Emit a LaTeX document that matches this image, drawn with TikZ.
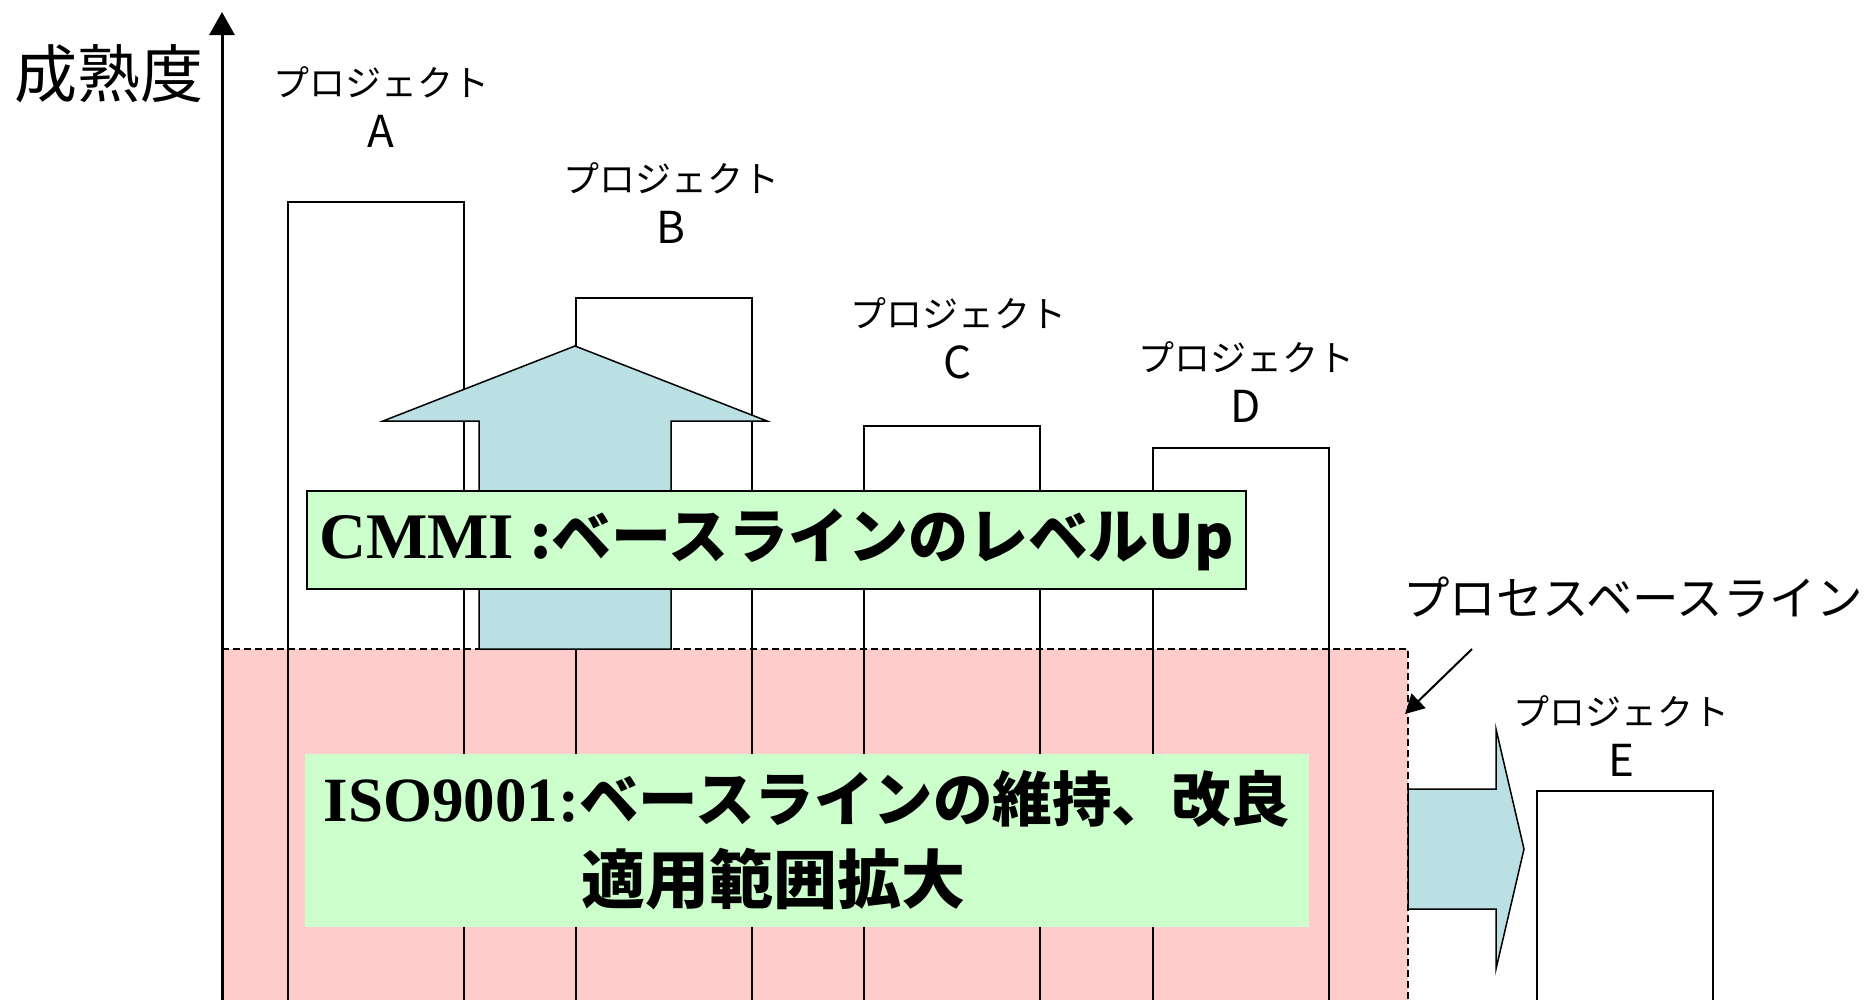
\documentclass[tikz,border=0pt]{standalone}
\usepackage{fontspec}
\setmainfont{Liberation Serif}
\newfontfamily\jp{Noto Sans CJK JP}
\usetikzlibrary{arrows.meta}
\definecolor{pinkbg}{HTML}{FFCCCC}
\definecolor{greenbg}{HTML}{CCFFCC}
\definecolor{bluearr}{HTML}{BBE0E3}
\newcommand{\projletter}[1]{{\fontsize{44}{51}\selectfont #1}}
\tikzset{
  pbox/.style={draw, line width=1.5pt, anchor=north west, inner sep=0pt,
               minimum width=176pt, minimum height=820pt},
  lbl/.style={align=center, inner sep=0pt, font=\jp\fontsize{36}{51}\selectfont},
  bigarrow/.style={draw, line width=1.5pt, fill=bluearr, line join=miter},
  greenbox/.style={fill=greenbg, inner sep=0pt},
}
\begin{document}
\begin{tikzpicture}[x=1pt,y=-1pt]
\useasboundingbox (0,0) rectangle (1871,999);
\clip (0,0) rectangle (1871,999);
% pink baseline region
\fill[pinkbg] (222,649) rectangle (1408,1010);
\coordinate (blTL) at (222,649);
\coordinate (blTR) at (1408,649);
\coordinate (blBR) at (1408,1010);
% project boxes
\node[pbox] (boxA) at (287,201) {};
\node[pbox] (boxB) at (575,297) {};
\node[pbox] (boxC) at (863,425) {};
\node[pbox] (boxD) at (1152,447) {};
\node[pbox] (boxE) at (1536,790) {};
% dashed border of baseline
\draw[line width=1.5pt, dash pattern=on 7pt off 4pt] (blTL) -- (blTR) -- (blBR);
% axis
\coordinate (axBot) at (222,1010);
\coordinate (axTop) at (222,12);
\draw[line width=3pt, -{Triangle[length=23pt,width=25pt]}] (axBot) -- (axTop);
\node[inner sep=0pt, font=\jp\fontsize{63}{63}\selectfont] (ylab) at (109,74) {成熟度};
% labels
\node[lbl] (lA) at (381,107) {プロジェクト\\\projletter{A}};
\node[lbl] (lB) at (671,203) {プロジェクト\\\projletter{B}};
\node[lbl] (lC) at (958,338) {プロジェクト\\\projletter{C}};
\node[lbl] (lD) at (1246,382) {プロジェクト\\\projletter{D}};
\node[lbl] (lE) at (1621,736) {プロジェクト\\\projletter{E}};
% up arrow
\draw[bigarrow] (575,346) -- (767,421) -- (671,421) -- (671,649) -- (479,649) -- (479,421) -- (383,421) -- cycle;
% CMMI box
\node[draw, line width=1.5pt, fill=greenbg, inner sep=0pt, minimum width=939pt, minimum height=98pt] (cmmi) at (776.5,540)
  {{\bfseries\fontsize{65}{65}\selectfont CMMI\ }{\jp\bfseries\fontsize{60}{60}\selectfont :ベースラインのレベルUp}};
% ISO box
\node[greenbox, minimum width=1004pt, minimum height=173pt, align=left, font=\fontsize{63}{82}\selectfont] (iso) at (807,840.5)
  {{\bfseries ISO9001:}{\jp\bfseries\fontsize{59.5}{82}\selectfont ベースラインの維持、改良}\\
   \hspace*{258pt}{\jp\bfseries\fontsize{64}{82}\selectfont 適用範囲拡大}};
% right arrow
\draw[bigarrow] (1408,789) -- (1496,789) -- (1496,729) -- (1524,849) -- (1496,969) -- (1496,909) -- (1408,909) -- cycle;
% process baseline label and pointer
\node[inner sep=0pt, font=\jp\fontsize{46.5}{46.5}\selectfont] (pbl) at (1633,597) {プロセスベースライン};
\coordinate (pbStart) at (1472,649);
\coordinate (pbEnd) at (1405,714);
\draw[line width=2pt, -{Triangle[length=19pt,width=20pt]}] (pbStart) -- (pbEnd);
\end{tikzpicture}
\end{document}
